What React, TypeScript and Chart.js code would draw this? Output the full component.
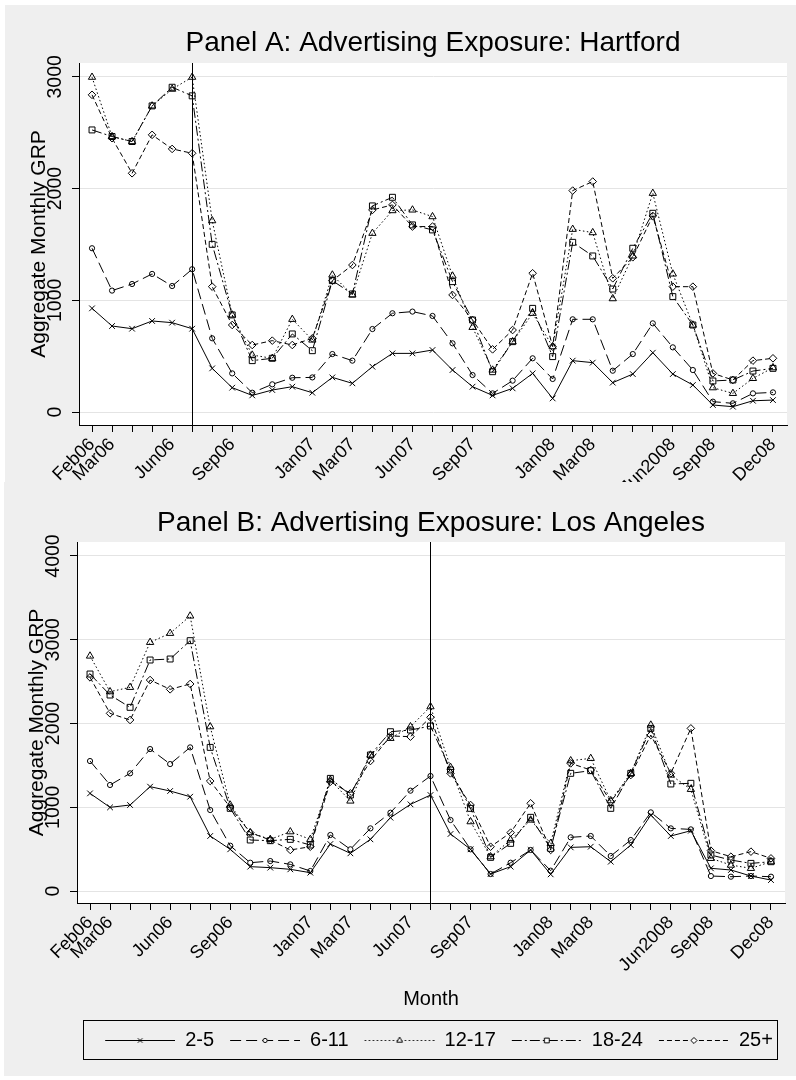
import { useEffect, useRef } from 'react';
import { Chart, registerables } from 'chart.js';
import { drawPoint } from 'chart.js/helpers';

Chart.register(...registerables);

const FONT = '"Liberation Sans", Arial, Helvetica, sans-serif';

const ageGroups = ['2-5', '6-11', '12-17', '18-24', '25+'];

// one tick per month from Feb06 to Dec08, blank ones carry no label
const monthTickLabels = [
  'Feb06', 'Mar06', '', '', 'Jun06', '', '', 'Sep06', '', '', '', 'Jan07',
  '', 'Mar07', '', '', 'Jun07', '', '', 'Sep07', '', '', '', 'Jan08',
  '', 'Mar08', '', '', '', 'Jun2008', '', 'Sep08', '', '', 'Dec08',
];

// Panel A: Hartford
const hartford2to5 = [928, 770, 746, 815, 800, 746, 391, 218, 149, 197, 227, 173, 310, 257, 406, 525, 525, 555, 376, 227, 149, 212, 346, 122, 460, 442, 263, 340, 531, 340, 242, 63, 48, 101, 107];
const hartford6to11 = [1466, 1087, 1146, 1236, 1128, 1278, 660, 346, 173, 248, 307, 310, 519, 460, 743, 884, 899, 860, 615, 331, 167, 281, 481, 296, 830, 830, 370, 519, 794, 579, 376, 93, 78, 167, 176];
const hartford12to17 = [2997, 2466, 2421, 2740, 2890, 2997, 1713, 869, 510, 481, 830, 645, 1227, 1048, 1600, 1803, 1809, 1749, 1218, 758, 376, 630, 884, 585, 1636, 1606, 1015, 1397, 1958, 1236, 779, 218, 167, 301, 397];
const hartford18to24 = [2525, 2466, 2421, 2740, 2907, 2830, 1501, 869, 460, 481, 699, 549, 1176, 1057, 1845, 1922, 1675, 1630, 1167, 824, 361, 630, 928, 496, 1519, 1397, 1101, 1466, 1779, 1033, 779, 278, 287, 367, 391];
const hartford25plus = [2839, 2451, 2137, 2481, 2355, 2316, 1122, 779, 600, 639, 600, 660, 1176, 1316, 1809, 1854, 1660, 1660, 1048, 824, 561, 734, 1242, 585, 1982, 2063, 1197, 1385, 1755, 1122, 1122, 346, 287, 460, 481];

// Panel B: Los Angeles
const losAngeles2to5 = [1166, 999, 1027, 1246, 1194, 1126, 657, 498, 291, 279, 259, 219, 561, 450, 617, 876, 1035, 1146, 681, 498, 203, 291, 490, 199, 521, 529, 350, 549, 907, 657, 720, 271, 251, 179, 131];
const losAngeles6to11 = [1552, 1266, 1405, 1695, 1516, 1715, 967, 541, 338, 358, 318, 239, 669, 498, 748, 935, 1198, 1373, 848, 498, 203, 338, 490, 243, 641, 657, 418, 609, 939, 748, 736, 179, 171, 179, 171];
const losAngeles12to17 = [2806, 2380, 2432, 2969, 3077, 3284, 1962, 1027, 697, 617, 708, 617, 1325, 1075, 1624, 1823, 1962, 2201, 1477, 828, 410, 609, 848, 569, 1556, 1584, 1079, 1405, 1982, 1385, 1214, 390, 310, 271, 350];
const losAngeles18to24 = [2591, 2340, 2193, 2758, 2770, 2989, 1715, 987, 609, 601, 617, 549, 1345, 1146, 1624, 1902, 1922, 1970, 1445, 987, 402, 569, 880, 509, 1405, 1437, 987, 1405, 1942, 1278, 1286, 430, 370, 330, 350];
const losAngeles25plus = [2551, 2121, 2042, 2519, 2408, 2472, 1313, 999, 697, 609, 490, 529, 1305, 1166, 1552, 1851, 1843, 2074, 1405, 1027, 529, 697, 1047, 490, 1524, 1445, 1067, 1385, 1862, 1405, 1942, 482, 410, 470, 390];

const hartfordTicks = [0, 1000, 2000, 3000];
const losAngelesTicks = [0, 1000, 2000, 3000, 4000];

// month index of the vertical reference line
const hartfordEvent = 5; // Jul06
const losAngelesEvent = 17; // Jul07

const seriesLook = [
  { dash: [] as number[], marker: 'crossRot', radius: 4 },
  { dash: [11, 5], marker: 'circle', radius: 2.6 },
  { dash: [1.5, 2.5], marker: 'triangle', radius: 4.2 },
  { dash: [10, 3, 2, 3], marker: 'rect', radius: 4.2 },
  { dash: [5, 3], marker: 'rectRot', radius: 3.8 },
];

// legend symbol: a short piece of the line with the marker in its middle
function makeSwatch(dash: number[], marker: string, radius: number) {
  const c = document.createElement('canvas');
  c.width = 86;
  c.height = 14;
  const ctx = c.getContext('2d')!;
  ctx.strokeStyle = '#000';
  ctx.lineWidth = 1;
  ctx.setLineDash(dash);
  ctx.beginPath();
  ctx.moveTo(16, 7.5);
  ctx.lineTo(86, 7.5);
  ctx.stroke();
  ctx.setLineDash([]);
  ctx.fillStyle = '#fff';
  drawPoint(ctx, { pointStyle: marker, radius: radius * 0.8, rotation: 0, borderWidth: 1 } as any, 51, 7.5);
  return c;
}

const plotBackground = {
  id: 'plotBackground',
  beforeDraw(chart: any) {
    const { ctx, chartArea: a } = chart;
    ctx.save();
    ctx.fillStyle = '#fff';
    ctx.fillRect(a.left, a.top, a.right - a.left, a.bottom - a.top);
    ctx.restore();
  },
};

const eventLine = {
  id: 'eventLine',
  beforeDatasetsDraw(chart: any, _args: any, opts: any) {
    const { ctx, chartArea: a } = chart;
    const x = Math.round(chart.scales.x.getPixelForValue(opts.index)) + 0.5;
    ctx.save();
    ctx.strokeStyle = '#000';
    ctx.lineWidth = 1;
    ctx.beginPath();
    ctx.moveTo(x, a.top);
    ctx.lineTo(x, a.bottom);
    ctx.stroke();
    ctx.restore();
  },
};

const legendFrame = {
  id: 'legendFrame',
  afterDraw(chart: any) {
    const lg = chart.legend;
    if (!lg || !lg.options.display || !lg.legendHitBoxes.length) return;
    const { ctx, chartArea: a } = chart;
    const hb = lg.legendHitBoxes[0];
    const cy = hb.top + hb.height / 2;
    ctx.save();
    ctx.strokeStyle = '#000';
    ctx.lineWidth = 1;
    ctx.strokeRect(Math.round(a.left) + 6.5, Math.round(cy - 19) - 0.5, a.right - a.left - 14, 39);
    ctx.restore();
  },
};

interface PanelProps {
  title: string;
  values: number[][];
  yMin: number;
  yMax: number;
  yTicks: number[];
  eventIndex: number;
  left: number;
  top: number;
  width: number;
  height: number;
  titlePad: [number, number];
  yWidth: number;
  yTitlePad: number;
  yTickPad: number;
  xHeight: number;
  xTitle?: string;
  xTitlePad?: number;
  showLegend: boolean;
  padRight: number;
  padBottom: number;
}

function Panel(p: PanelProps) {
  const chartRef = useRef<HTMLCanvasElement>(null);
  const chartInstance = useRef<Chart | null>(null);

  useEffect(() => {
    if (!chartRef.current) return;
    const ctx = chartRef.current.getContext('2d');
    if (!ctx) return;
    if (chartInstance.current) chartInstance.current.destroy();

    const swatches = seriesLook.map((s) => makeSwatch(s.dash, s.marker, s.radius));

    chartInstance.current = new Chart(ctx, {
      type: 'line',
      data: {
        datasets: ageGroups.map((label, s) => ({
          label,
          data: p.values[s].map((y, i) => ({ x: i, y })),
          borderColor: '#000',
          borderWidth: 1,
          borderDash: seriesLook[s].dash,
          pointStyle: seriesLook[s].marker as any,
          pointRadius: seriesLook[s].radius,
          pointBorderColor: '#000',
          pointBackgroundColor: 'rgba(0,0,0,0)',
          pointBorderWidth: 1,
          fill: false,
          tension: 0,
        })),
      },
      options: {
        responsive: true,
        maintainAspectRatio: false,
        animation: false,
        events: [],
        layout: { padding: { top: 0, left: 0, right: p.padRight, bottom: p.padBottom } },
        plugins: {
          title: {
            display: true,
            fullSize: false,
            text: p.title,
            color: '#000',
            font: { family: FONT, size: 28, weight: 'normal' },
            padding: { top: p.titlePad[0], bottom: p.titlePad[1] },
          },
          legend: p.showLegend
            ? {
                display: true,
                position: 'bottom',
                fullSize: false,
                labels: {
                  usePointStyle: true,
                  pointStyleWidth: 86,
                  padding: 0,
                  color: '#000',
                  font: { family: FONT, size: 20 },
                  generateLabels: (chart: any) =>
                    chart.data.datasets.map((ds: any, i: number) => ({
                      text: ds.label,
                      datasetIndex: i,
                      hidden: false,
                      fontColor: '#000',
                      pointStyle: swatches[i],
                      lineWidth: 0,
                      strokeStyle: '#000',
                      fillStyle: '#000',
                    })),
                },
              }
            : { display: false },
          tooltip: { enabled: false },
          eventLine: { index: p.eventIndex },
        } as any,
        scales: {
          x: {
            type: 'linear',
            min: -0.65,
            max: 34.7,
            afterBuildTicks: (scale: any) => {
              scale.ticks = monthTickLabels.map((_l, i) => ({ value: i }));
            },
            afterFit: (scale: any) => {
              scale.height = p.xHeight;
              scale.paddingLeft = 0;
              scale.paddingRight = 0;
            },
            grid: { drawOnChartArea: false, drawTicks: true, tickLength: 7, tickColor: '#000', tickWidth: 1 },
            border: { display: true, color: '#000', width: 1 },
            ticks: {
              autoSkip: false,
              minRotation: 45,
              maxRotation: 45,
              padding: 2,
              color: '#000',
              font: { family: FONT, size: 18 },
              callback: (_v: any, i: number) => monthTickLabels[i],
            },
            title: {
              display: !!p.xTitle,
              text: p.xTitle || '',
              color: '#000',
              font: { family: FONT, size: 20 },
              padding: { top: 0, bottom: p.xTitlePad || 0 },
            },
          },
          y: {
            type: 'linear',
            min: p.yMin,
            max: p.yMax,
            afterBuildTicks: (scale: any) => {
              scale.ticks = p.yTicks.map((v) => ({ value: v }));
            },
            afterFit: (scale: any) => {
              scale.width = p.yWidth;
              scale.paddingTop = 0;
              scale.paddingBottom = 0;
            },
            grid: { color: '#e4e4e4', lineWidth: 1, drawTicks: true, tickLength: 7, tickColor: '#000', tickWidth: 1 },
            border: { display: true, color: '#000', width: 1 },
            ticks: {
              autoSkip: false,
              minRotation: 90,
              maxRotation: 90,
              crossAlign: 'center',
              padding: p.yTickPad,
              color: '#000',
              font: { family: FONT, size: 19.5 },
              callback: (v: any) => String(v),
            },
            title: {
              display: true,
              text: 'Aggregate Monthly GRP',
              color: '#000',
              font: { family: FONT, size: 21 },
              padding: { top: p.yTitlePad, bottom: 0 },
            },
          },
        } as any,
      },
      plugins: [plotBackground, eventLine, legendFrame],
    });

    return () => {
      if (chartInstance.current) {
        chartInstance.current.destroy();
        chartInstance.current = null;
      }
    };
  }, []);

  return (
    <div
      style={{
        position: 'absolute',
        left: p.left,
        top: p.top,
        width: p.width,
        height: p.height,
        background: '#efefef',
      }}
    >
      <canvas ref={chartRef}></canvas>
    </div>
  );
}

export default function App() {
  return (
    <div style={{ position: 'absolute', left: 0, top: 0, width: 796, height: 1080, background: '#fff' }}>
      <Panel
        title="Panel A: Advertising Exposure: Hartford"
        values={[hartford2to5, hartford6to11, hartford12to17, hartford18to24, hartford25plus]}
        yMin={-116}
        yMax={3124}
        yTicks={hartfordTicks}
        eventIndex={hartfordEvent}
        left={5}
        top={5}
        width={791}
        height={477}
        titlePad={[21.7, 2.7]}
        yWidth={74}
        yTitlePad={22}
        yTickPad={-5}
        xHeight={57}
        showLegend={false}
        padRight={9}
        padBottom={0}
      />
      <Panel
        title="Panel B: Advertising Exposure: Los Angeles"
        values={[losAngeles2to5, losAngeles6to11, losAngeles12to17, losAngeles18to24, losAngeles25plus]}
        yMin={-143}
        yMax={4167}
        yTicks={losAngelesTicks}
        eventIndex={losAngelesEvent}
        left={4}
        top={482}
        width={792}
        height={594}
        titlePad={[24.2, 2.2]}
        yWidth={73}
        yTitlePad={21}
        yTickPad={-5.5}
        xHeight={127}
        xTitle="Month"
        xTitlePad={19}
        showLegend={true}
        padRight={11}
        padBottom={16}
      />
    </div>
  );
}
